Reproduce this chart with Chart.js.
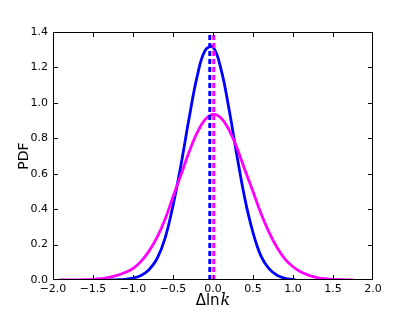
<!DOCTYPE html>
<html>
<head>
<meta charset="utf-8">
<script src="https://cdn.jsdelivr.net/npm/chart.js@4.4.1/dist/chart.umd.min.js"></script>
<style>
    html, body { margin: 0; padding: 0; background: #fff; }
</style>
</head>
<body>
<canvas id="myChart" width="415" height="312"></canvas>
<script>

// curva azul (mas estrecha)
const azulX = [-1.3, -1.2, -1.1, -1.0, -0.9, -0.8, -0.7, -0.6, -0.5, -0.4, -0.3, -0.2, -0.1, 0.0, 0.1, 0.2, 0.3, 0.4, 0.5, 0.6, 0.7, 0.8, 0.9, 1.0, 1.03]
const azulY = [0.000, 0.001, 0.004, 0.011, 0.026, 0.058, 0.120, 0.235, 0.420, 0.650, 0.910, 1.145, 1.295, 1.315, 1.190, 0.965, 0.700, 0.455, 0.268, 0.135, 0.064, 0.027, 0.010, 0.003, 0.001]

// curva magenta (mas ancha)
const magentaX = [-1.92, -1.8, -1.7, -1.6, -1.5, -1.4, -1.3, -1.2, -1.1, -1.0, -0.9, -0.8, -0.7, -0.6, -0.5, -0.4, -0.3, -0.2, -0.1, 0.0, 0.1, 0.2, 0.3, 0.4, 0.5, 0.6, 0.7, 0.8, 0.9, 1.0, 1.1, 1.2, 1.3, 1.4, 1.5, 1.6, 1.75]
const magentaY = [0.000, 0.0003, 0.001, 0.002, 0.004, 0.008, 0.015, 0.026, 0.042, 0.065, 0.105, 0.163, 0.240, 0.342, 0.470, 0.594, 0.721, 0.830, 0.905, 0.935, 0.915, 0.848, 0.745, 0.620, 0.500, 0.375, 0.270, 0.183, 0.118, 0.075, 0.045, 0.026, 0.013, 0.007, 0.003, 0.0015, 0.000]

// medias (lineas punteadas)
const mediaAzul = -0.04
const mediaMagenta = 0.01

const xTicks = [-2.0, -1.5, -1.0, -0.5, 0.0, 0.5, 1.0, 1.5, 2.0]
const yTicks = [0.0, 0.2, 0.4, 0.6, 0.8, 1.0, 1.2, 1.4]

const puntos = (xs, ys) => xs.map((x, i) => ({ x: x, y: ys[i] }))

const menos = v => v.toFixed(1).replace('-', '\u2212')

// marco, ticks hacia adentro y etiquetas de ejes
const marco = {
    id: 'marco',
    afterDraw(chart) {
        const ctx = chart.ctx
        const a = chart.chartArea
        const sx = chart.scales.x
        const sy = chart.scales.y
        const l = Math.round(a.left)
        const r = Math.round(a.right) - 1
        const t = Math.round(a.top)
        const b = Math.round(a.bottom) - 1
        ctx.save()
        ctx.setLineDash([])
        ctx.globalAlpha = 1
        ctx.fillStyle = '#000'
        ctx.fillRect(l, t, r - l + 1, 1)
        ctx.fillRect(l, b, r - l + 1, 1)
        ctx.fillRect(l, t, 1, b - t + 1)
        ctx.fillRect(r, t, 1, b - t + 1)
        xTicks.forEach(v => {
            let px = Math.round(sx.getPixelForValue(v))
            if (px >= r) px = r
            ctx.fillRect(px, b - 4, 1, 4)
            ctx.fillRect(px, t + 1, 1, 4)
        })
        yTicks.forEach(v => {
            let py = Math.round(sy.getPixelForValue(v))
            if (py >= b) py = b
            ctx.fillRect(l + 1, py, 4, 1)
            ctx.fillRect(r - 4, py, 4, 1)
        })

        // titulo eje x: Δln k
        ctx.textBaseline = 'middle'
        ctx.textAlign = 'left'
        const f1 = '15px "DejaVu Sans"'
        const f2 = 'italic 16px "DejaVu Serif"'
        ctx.font = f1
        const w1 = ctx.measureText('\u0394ln').width
        ctx.font = f2
        const w2 = ctx.measureText('k').width
        const cx = (a.left + a.right) / 2
        let x0 = cx - (w1 + w2 + 1) / 2
        ctx.font = f1
        ctx.fillText('\u0394ln', x0, 301)
        ctx.font = f2
        ctx.fillText('k', x0 + w1 + 1, 301)

        // titulo eje y
        ctx.translate(24, (a.top + a.bottom) / 2)
        ctx.rotate(-Math.PI / 2)
        ctx.textAlign = 'center'
        ctx.font = '14px "DejaVu Sans"'
        ctx.fillText('PDF', 0, 0)
        ctx.restore()
    }
}

let ctx = document.getElementById('myChart').getContext('2d')
let myChart = new Chart(ctx, {
    type: 'line',
    data: {
        datasets: [
            {
                label: 'media azul',
                data: [{ x: mediaAzul, y: 0 }, { x: mediaAzul, y: 1.4 }],
                borderColor: '#0000ff',
                borderWidth: 3,
                borderDash: [5, 3],
                pointRadius: 0,
                order: 0
            },
            {
                label: 'media magenta',
                data: [{ x: mediaMagenta, y: 0 }, { x: mediaMagenta, y: 1.4 }],
                borderColor: '#ff00ff',
                borderWidth: 3,
                borderDash: [5, 3],
                pointRadius: 0,
                order: 1
            },
            {
                label: 'magenta',
                data: puntos(magentaX, magentaY),
                borderColor: '#ff00ff',
                borderWidth: 2.8,
                pointRadius: 0,
                tension: 0.4,
                order: 2
            },
            {
                label: 'azul',
                data: puntos(azulX, azulY),
                borderColor: '#0000ff',
                borderWidth: 2.8,
                pointRadius: 0,
                tension: 0.4,
                order: 3
            }
        ]
    },
    options: {
        responsive: false,
        animation: false,
        devicePixelRatio: 1,
        layout: { padding: { top: 32, right: 42, left: 0, bottom: 0 } },
        plugins: {
            legend: { display: false },
            tooltip: { enabled: false }
        },
        scales: {
            x: {
                type: 'linear',
                min: -2,
                max: 2,
                grid: { display: false, drawTicks: false },
                border: { display: false },
                afterFit: scale => { scale.height = 32 },
                afterBuildTicks: scale => { scale.ticks = xTicks.map(v => ({ value: v })) },
                ticks: {
                    padding: 3,
                    color: '#000',
                    font: { family: 'DejaVu Sans', size: 11 },
                    maxRotation: 0,
                    autoSkip: false,
                    callback: v => menos(v)
                }
            },
            y: {
                type: 'linear',
                min: 0,
                max: 1.4,
                grid: { display: false, drawTicks: false },
                border: { display: false },
                afterFit: scale => { scale.width = 53 },
                afterBuildTicks: scale => { scale.ticks = yTicks.map(v => ({ value: v })) },
                ticks: {
                    padding: 5,
                    color: '#000',
                    font: { family: 'DejaVu Sans', size: 11 },
                    autoSkip: false,
                    callback: v => menos(v)
                }
            }
        }
    },
    plugins: [marco]
})

</script>
</body>
</html>
